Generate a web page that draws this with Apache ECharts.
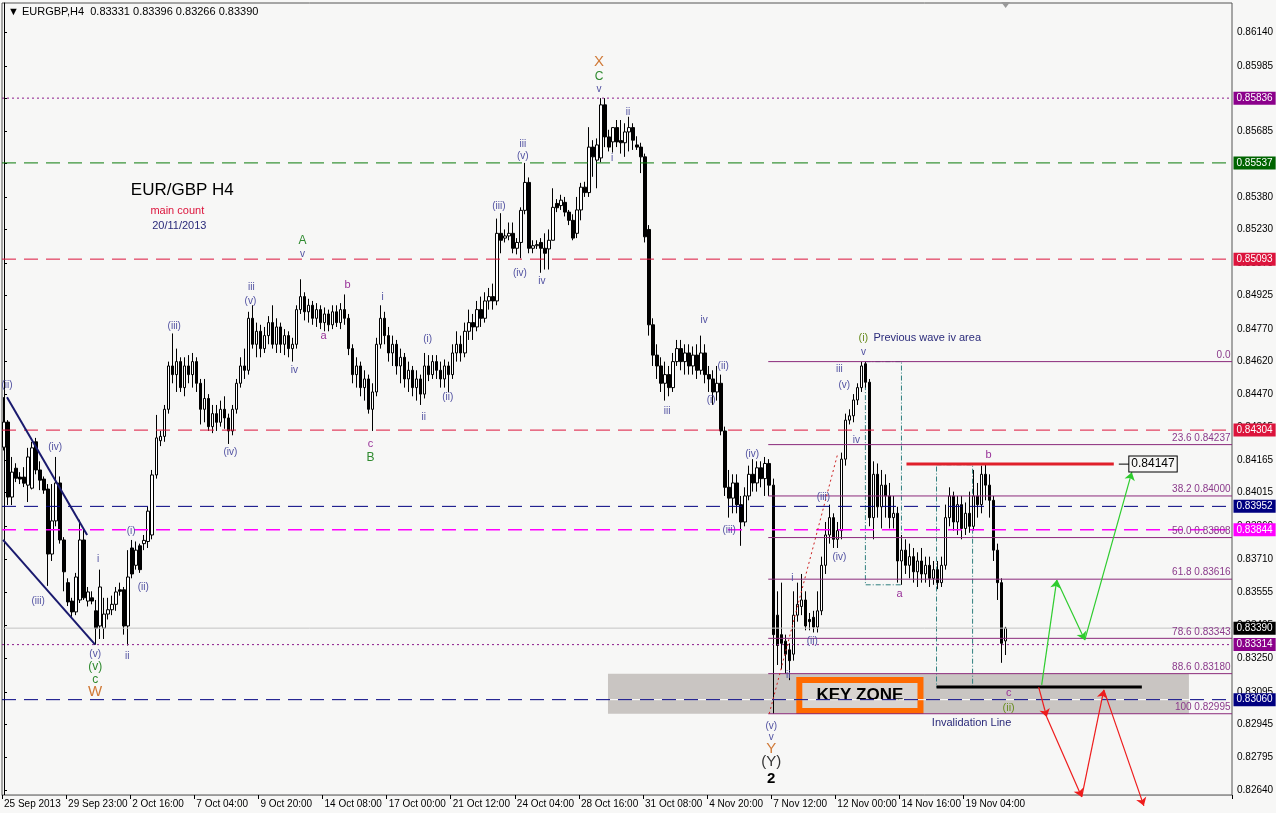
<!DOCTYPE html>
<html><head><meta charset="utf-8">
<script src="https://cdn.jsdelivr.net/npm/echarts@6/dist/echarts.min.js"></script>
<style>html,body{margin:0;padding:0;background:#f7f7f6}#c{width:1276px;height:813px}</style>
</head><body><div id="c"></div>
<script>
// ---------------- DATA ----------------
const headerText = '\u25BC EURGBP,H4  0.83331 0.83396 0.83266 0.83390';
const timeLabels = ['25 Sep 2013','29 Sep 23:00','2 Oct 16:00','7 Oct 04:00','9 Oct 20:00','14 Oct 08:00','17 Oct 00:00','21 Oct 12:00','24 Oct 04:00','28 Oct 16:00','31 Oct 08:00','4 Nov 20:00','7 Nov 12:00','12 Nov 00:00','14 Nov 16:00','19 Nov 04:00'];
const priceTicks = [0.86140,0.85985,0.85835,0.85685,0.85535,0.85380,0.85230,0.85075,0.84925,0.84770,0.84620,0.84470,0.84315,0.84165,0.84015,0.83860,0.83710,0.83555,0.83405,0.83250,0.83095,0.82945,0.82795,0.82640];
// rows: open, high, low, close
const ohlc = [
[0.84225,0.84456,0.84210,0.84341],[0.84341,0.84350,0.83958,0.83995],[0.83995,0.84180,0.83958,0.84110],[0.84128,0.84151,0.84064,0.84082],[0.84087,0.84110,0.84055,0.84078],
[0.84087,0.84133,0.84041,0.84059],[0.84050,0.84222,0.83972,0.84180],[0.84036,0.84250,0.84030,0.84222],[0.84250,0.84268,0.84100,0.84120],[0.84120,0.84160,0.84027,0.84073],
[0.84078,0.84090,0.84010,0.84027],[0.84032,0.84055,0.83585,0.83732],[0.83732,0.84055,0.83700,0.83885],[0.83885,0.84180,0.83860,0.84060],[0.84060,0.84090,0.83780,0.83797],
[0.83797,0.83810,0.83560,0.83650],[0.83600,0.83620,0.83492,0.83511],[0.83515,0.83530,0.83442,0.83465],[0.83465,0.83645,0.83450,0.83626],[0.83520,0.83890,0.83506,0.83797],
[0.83797,0.83843,0.83520,0.83530],[0.83515,0.83580,0.83490,0.83557],[0.83530,0.83560,0.83500,0.83515],[0.83470,0.83520,0.83314,0.83390],[0.83400,0.83660,0.83340,0.83580],
[0.83390,0.83530,0.83340,0.83455],[0.83455,0.83530,0.83430,0.83475],[0.83475,0.83540,0.83450,0.83500],[0.83500,0.83580,0.83470,0.83557],[0.83567,0.83600,0.83540,0.83560],
[0.83567,0.83580,0.83360,0.83400],[0.83400,0.83750,0.83310,0.83626],[0.83760,0.83797,0.83620,0.83640],[0.83680,0.83790,0.83660,0.83750],[0.83770,0.83780,0.83645,0.83660],
[0.83780,0.83820,0.83750,0.83795],[0.83790,0.83950,0.83760,0.83930],[0.83820,0.84120,0.83800,0.84097],[0.84097,0.84374,0.84080,0.84268],[0.84255,0.84300,0.84230,0.84275],
[0.84275,0.84420,0.84250,0.84400],[0.84400,0.84620,0.84380,0.84600],[0.84600,0.84750,0.84520,0.84560],[0.84560,0.84680,0.84480,0.84620],[0.84620,0.84640,0.84480,0.84500],
[0.84500,0.84640,0.84460,0.84600],[0.84600,0.84650,0.84520,0.84560],[0.84560,0.84660,0.84500,0.84620],[0.84620,0.84640,0.84480,0.84520],[0.84520,0.84540,0.84330,0.84400],
[0.84400,0.84540,0.84340,0.84450],[0.84450,0.84470,0.84300,0.84320],[0.84320,0.84420,0.84290,0.84380],[0.84380,0.84420,0.84300,0.84340],[0.84340,0.84440,0.84320,0.84400],
[0.84400,0.84460,0.84310,0.84360],[0.84360,0.84380,0.84240,0.84300],[0.84300,0.84420,0.84280,0.84400],[0.84400,0.84540,0.84380,0.84520],[0.84520,0.84640,0.84500,0.84600],
[0.84600,0.84680,0.84540,0.84580],[0.84580,0.84850,0.84560,0.84820],[0.84820,0.84880,0.84680,0.84700],[0.84700,0.84800,0.84640,0.84760],[0.84760,0.84790,0.84640,0.84680],
[0.84680,0.84780,0.84660,0.84740],[0.84740,0.84830,0.84700,0.84800],[0.84800,0.84880,0.84680,0.84700],[0.84700,0.84820,0.84660,0.84780],[0.84780,0.84800,0.84660,0.84700],
[0.84700,0.84770,0.84650,0.84740],[0.84740,0.84760,0.84640,0.84680],[0.84680,0.84730,0.84620,0.84700],[0.84700,0.84880,0.84680,0.84860],[0.84860,0.85000,0.84840,0.84920],
[0.84920,0.84940,0.84810,0.84850],[0.84850,0.84910,0.84800,0.84880],[0.84880,0.84900,0.84790,0.84820],[0.84820,0.84890,0.84780,0.84860],[0.84860,0.84880,0.84770,0.84800],
[0.84800,0.84870,0.84760,0.84840],[0.84840,0.84860,0.84760,0.84790],[0.84790,0.84880,0.84770,0.84850],[0.84850,0.84880,0.84780,0.84800],[0.84800,0.84890,0.84770,0.84860],
[0.84860,0.84930,0.84790,0.84820],[0.84820,0.84840,0.84650,0.84680],[0.84680,0.84700,0.84520,0.84560],[0.84560,0.84640,0.84500,0.84600],[0.84600,0.84620,0.84460,0.84500],
[0.84500,0.84580,0.84440,0.84540],[0.84540,0.84560,0.84380,0.84400],[0.84400,0.84520,0.84300,0.84480],[0.84480,0.84730,0.84460,0.84700],[0.84700,0.84880,0.84680,0.84820],
[0.84820,0.84850,0.84700,0.84740],[0.84740,0.84780,0.84620,0.84660],[0.84660,0.84740,0.84600,0.84700],[0.84700,0.84720,0.84560,0.84600],[0.84600,0.84680,0.84520,0.84640],
[0.84640,0.84660,0.84500,0.84540],[0.84540,0.84620,0.84480,0.84580],[0.84580,0.84600,0.84460,0.84500],[0.84500,0.84580,0.84440,0.84540],[0.84540,0.84560,0.84420,0.84470],
[0.84470,0.84660,0.84450,0.84600],[0.84600,0.84650,0.84530,0.84560],[0.84560,0.84650,0.84540,0.84620],[0.84620,0.84650,0.84540,0.84580],[0.84580,0.84620,0.84500,0.84540],
[0.84540,0.84630,0.84500,0.84600],[0.84600,0.84620,0.84480,0.84560],[0.84560,0.84700,0.84540,0.84660],[0.84660,0.84760,0.84620,0.84700],[0.84700,0.84740,0.84620,0.84660],
[0.84660,0.84800,0.84640,0.84760],[0.84760,0.84860,0.84720,0.84800],[0.84800,0.84840,0.84720,0.84780],[0.84780,0.84900,0.84760,0.84860],[0.84860,0.84920,0.84780,0.84820],
[0.84820,0.84940,0.84800,0.84900],[0.84900,0.84960,0.84860,0.84920],[0.84920,0.84980,0.84860,0.84900],[0.84900,0.85280,0.84880,0.85212],[0.85212,0.85305,0.85120,0.85180],
[0.85190,0.85230,0.85170,0.85200],[0.85200,0.85262,0.85180,0.85212],[0.85212,0.85262,0.85120,0.85143],[0.85143,0.85190,0.85115,0.85170],[0.85170,0.85332,0.85097,0.85318],
[0.85318,0.85537,0.85300,0.85447],[0.85447,0.85470,0.85120,0.85143],[0.85143,0.85180,0.85120,0.85155],[0.85155,0.85180,0.85140,0.85160],[0.85170,0.85190,0.85030,0.85143],
[0.85143,0.85212,0.85045,0.85120],[0.85140,0.85230,0.85045,0.85180],[0.85180,0.85420,0.85180,0.85332],[0.85350,0.85370,0.85310,0.85330],[0.85340,0.85390,0.85320,0.85365],
[0.85355,0.85380,0.85290,0.85310],[0.85310,0.85320,0.85250,0.85272],[0.85272,0.85300,0.85180,0.85190],[0.85212,0.85380,0.85190,0.85320],[0.85320,0.85445,0.85272,0.85425],
[0.85425,0.85450,0.85380,0.85400],[0.85400,0.85702,0.85380,0.85610],[0.85610,0.85642,0.85473,0.85565],[0.85550,0.85650,0.85420,0.85620],[0.85560,0.85836,0.85540,0.85805],
[0.85805,0.85836,0.85610,0.85657],[0.85657,0.85690,0.85590,0.85610],[0.85634,0.85702,0.85585,0.85700],[0.85700,0.85735,0.85610,0.85634],[0.85640,0.85735,0.85580,0.85630],
[0.85630,0.85720,0.85565,0.85680],[0.85680,0.85750,0.85590,0.85700],[0.85700,0.85720,0.85597,0.85642],[0.85620,0.85660,0.85597,0.85610],[0.85610,0.85630,0.85490,0.85565],
[0.85565,0.85580,0.85170,0.85196],[0.85230,0.85250,0.84740,0.84790],[0.84790,0.84820,0.84600,0.84650],[0.84650,0.84700,0.84540,0.84600],[0.84600,0.84640,0.84480,0.84520],
[0.84520,0.84620,0.84440,0.84560],[0.84560,0.84600,0.84460,0.84500],[0.84500,0.84660,0.84480,0.84620],[0.84620,0.84720,0.84600,0.84680],[0.84680,0.84720,0.84580,0.84620],
[0.84620,0.84700,0.84560,0.84660],[0.84660,0.84700,0.84560,0.84600],[0.84600,0.84690,0.84560,0.84650],[0.84650,0.84700,0.84540,0.84580],[0.84580,0.84740,0.84560,0.84660],
[0.84660,0.84700,0.84520,0.84560],[0.84560,0.84600,0.84480,0.84540],[0.84540,0.84580,0.84420,0.84480],[0.84480,0.84600,0.84440,0.84520],[0.84520,0.84560,0.84280,0.84300],
[0.84300,0.84320,0.84000,0.84040],[0.84040,0.84120,0.83900,0.83990],[0.83990,0.84100,0.83920,0.84060],[0.84060,0.84100,0.83920,0.83960],[0.83960,0.84000,0.83770,0.83880],
[0.83880,0.84040,0.83860,0.84000],[0.84000,0.84140,0.83980,0.84100],[0.84100,0.84170,0.84020,0.84060],[0.84060,0.84160,0.84020,0.84130],[0.84130,0.84160,0.84040,0.84080],
[0.84080,0.84180,0.84000,0.84150],[0.84150,0.84170,0.84000,0.84050],[0.84050,0.84080,0.82995,0.83360],[0.83450,0.83560,0.83220,0.83310],[0.83360,0.83600,0.83200,0.83320],
[0.83330,0.83360,0.83180,0.83270],[0.83290,0.83320,0.83150,0.83240],[0.83270,0.83560,0.83240,0.83450],[0.83450,0.83600,0.83420,0.83500],[0.83490,0.83640,0.83450,0.83520],
[0.83520,0.83560,0.83380,0.83400],[0.83430,0.83460,0.83380,0.83420],[0.83440,0.83470,0.83370,0.83395],[0.83395,0.83560,0.83370,0.83470],[0.83470,0.83720,0.83450,0.83680],
[0.83680,0.83880,0.83640,0.83820],[0.83820,0.83960,0.83780,0.83900],[0.83900,0.83920,0.83760,0.83800],[0.83800,0.83880,0.83760,0.83840],[0.83840,0.84200,0.83800,0.84170],
[0.84170,0.84380,0.84140,0.84350],[0.84350,0.84400,0.84330,0.84370],[0.84370,0.84470,0.84340,0.84443],[0.84443,0.84520,0.84420,0.84500],[0.84500,0.84620,0.84480,0.84600],
[0.84610,0.84620,0.84500,0.84525],[0.84525,0.84540,0.83860,0.83900],[0.83900,0.84160,0.83800,0.84100],[0.84100,0.84150,0.83900,0.83950],[0.83950,0.84120,0.83850,0.84050],
[0.84050,0.84100,0.83900,0.84000],[0.84000,0.84060,0.83850,0.83900],[0.83900,0.84000,0.83850,0.83920],[0.83920,0.83950,0.83600,0.83700],[0.83700,0.83820,0.83590,0.83750],
[0.83750,0.83800,0.83640,0.83680],[0.83680,0.83780,0.83620,0.83720],[0.83720,0.83760,0.83600,0.83650],[0.83650,0.83740,0.83580,0.83700],[0.83700,0.83760,0.83600,0.83640],
[0.83640,0.83720,0.83600,0.83680],[0.83680,0.83720,0.83580,0.83620],[0.83620,0.83700,0.83590,0.83660],[0.83660,0.83700,0.83570,0.83600],[0.83600,0.83720,0.83580,0.83680],
[0.83680,0.83960,0.83660,0.83900],[0.83900,0.84040,0.83860,0.84000],[0.84000,0.84020,0.83840,0.83880],[0.83880,0.84000,0.83820,0.83960],[0.83960,0.84000,0.83800,0.83850],
[0.83850,0.83970,0.83820,0.83920],[0.83920,0.84020,0.83830,0.83860],[0.83860,0.84120,0.83840,0.84000],[0.84000,0.84060,0.83900,0.83960],[0.83960,0.84140,0.83920,0.84100],
[0.84100,0.84150,0.83980,0.84050],[0.84050,0.84100,0.83900,0.83980],[0.83980,0.84000,0.83700,0.83750],[0.83750,0.83780,0.83520,0.83600],[0.83600,0.83620,0.83230,0.83320],
[0.83331,0.83396,0.83266,0.83390]
];
// horizontal price levels (right-axis tagged)
const levelValues = [0.85836,0.85537,0.85093,0.84304,0.83952,0.83844,0.83390,0.83314,0.83060];
// Fibonacci retracement
const fibRatios = ['0.0','23.6','38.2','50.0','61.8','78.6','88.6','100'];
const fibPrices = [0.84620,0.84237,0.84000,0.83808,0.83616,0.83343,0.83180,0.82995];
const fibStartBar = 190.75;
const targetLevel = 0.84147;
const cLevel = 0.83118;
const keyZone = [150.75,0.83180,295.75,0.82995];
const keyBox = [198.5,0.83151,228.75,0.83008];
const waveBox1 = [215,0.84620,224,0.83590];
const waveBox2 = [232.75,0.84144,241.75,0.83118];
const wedgeUpper = [[0.75,0.84456],[20.75,0.83820]];
const wedgeLower = [[-0.25,0.83797],[22.75,0.83314]];
const redDotted = [[191,0.82995],[208,0.84189]];
const greenPath = [[259,0.83128],[262.75,0.83612],[269.75,0.83335],[281.5,0.84110]];
const redPath = [[258.25,0.83118],[260.25,0.82980],[269,0.82611],[274.5,0.83105],[284.5,0.82570]];
const lastBar = 250;
// wave labels [text, bar, price]
const slateLabels = [['(ii)',0.75,0.84512],['(iv)',12.75,0.84226],['(iii)',8.5,0.83515],['(v)',22.75,0.83271],['i',23.5,0.83709],['ii',30.75,0.83262],['(i)',31.75,0.83839],['(ii)',34.75,0.83580],['(iii)',42.5,0.84785],['(iv)',56.5,0.84203],['iii',61.75,0.84965],['(v)',61.5,0.84900],['iv',72.5,0.84582],['v',74.5,0.85117],['i',94.5,0.84918],['ii',104.75,0.84365],['(i)',105.75,0.84725],['(ii)',110.75,0.84457],['(iii)',123.5,0.85338],['(iv)',128.75,0.85029],['iii',129.5,0.85625],['(v)',129.5,0.85569],['iv',134.25,0.84992],['v',148.5,0.85878],['i',151.75,0.85560],['ii',155.75,0.85772],['iii',165.5,0.84392],['iv',174.75,0.84812],['(ii)',179.5,0.84600],['(i)',176.5,0.84443],['(iv)',186.75,0.84194],['(iii)',181,0.83843],['(v)',191.5,0.82939],['v',191.5,0.82888],['i',196.75,0.83622],['ii',195.75,0.83174],['(ii)',201.75,0.83331],['(iii)',204.5,0.83995],['(iv)',208.5,0.83719],['iv',212.75,0.84259],['(v)',209.75,0.84512],['iii',208.5,0.84586],['v',214.5,0.84665]];
const greenLabels = [['(v)',22.75,0.83211],['c',22.75,0.83151],['A',74.5,0.85177],['B',91.5,0.84175],['C',148.5,0.85934]];
const purpleLabels = [['a',79.75,0.84738],['b',85.75,0.84974],['c',91.5,0.84240],['a',223.5,0.83548],['b',245.75,0.84189],['c',250.75,0.83091]];
const orangeLabels = [['W',22.75,0.83096],['X',148.5,0.86003],['Y',191.5,0.82832]];
const oliveLabels = [['(i)',214.5,0.84729],['(ii)',250.75,0.83022]];
const notes = [['(Y)',191.5,0.82772],['2',191.5,0.82694],['Previous wave iv area',217,0.84729],['Invalidation Line',241.5,0.82952],['EUR/GBP H4',44.5,0.85412],['main count',43.25,0.85315],['20/11/2013',43.75,0.85246]];

// ---------------- CHART ----------------
const N = 307;
const FONT = 'Liberation Sans';
const cats = Array.from({length:N},(_,i)=>i);
const candleData = ohlc.map(r=>[r[0],r[3],r[2],r[1]]);
const X0 = -0.5, X1 = N - 0.5;

const levelStyle = [
  {c:'#8b1a8b',t:[2,3],bg:'#8b008b',w:1},
  {c:'#0a7a0a',t:[14,8],bg:'#006400',w:1},
  {c:'#dc143c',t:[14,8],bg:'#dc143c',w:1},
  {c:'#dc143c',t:[14,8],bg:'#dc143c',w:1},
  {c:'#000080',t:[14,8],bg:'#000080',w:1},
  {c:'#ff00ff',t:[14,8],bg:'#ff00ff',w:1.5},
  {c:'#c4c4c4',t:'solid',bg:'#000000',w:1},
  {c:'#8b1a8b',t:[2,3],bg:'#8b008b',w:1},
  {c:'#000080',t:[14,8],bg:'#000080',w:1}
];

// each straight segment is its own 2-point line series
const segSeries = [];
function seg(a,b,style,z){
  segSeries.push({type:'line',xAxisIndex:1,yAxisIndex:0,data:[a,b],z:z||4,silent:true,clip:false,
    showSymbol:false,symbol:'none',animation:false,color:style.color,
    lineStyle:{color:style.color,width:style.width,type:style.type,opacity:1},
    itemStyle:{color:style.color},emphasis:{disabled:true}});
}
seg([keyZone[0],0.83060],[keyZone[2],0.83060],{color:'#ffffff',width:1,type:'solid'});
levelValues.forEach((v,k)=>{const s=levelStyle[k];seg([X0,v],[X1,v],{color:s.c,type:s.t,width:s.w});});
fibPrices.forEach((p)=>seg([fibStartBar,p],[X1,p],{color:'#8b2a7b',width:1,type:'solid'}));
seg(wedgeUpper[0],wedgeUpper[1],{color:'#1a1a6e',width:2,type:'solid'});
seg(wedgeLower[0],wedgeLower[1],{color:'#1a1a6e',width:2,type:'solid'});
seg(redDotted[0],redDotted[1],{color:'#cc2020',width:1,type:[2,3]});
seg([225.25,targetLevel],[277,targetLevel],{color:'#e0202a',width:3,type:'solid'});
seg([278.25,targetLevel],[280.75,targetLevel],{color:'#000000',width:1,type:'solid'});
seg([232.75,cLevel],[284,cLevel],{color:'#000000',width:3,type:'solid'});

function pathLines(pts,color){const out=[];for(let k=0;k<pts.length-1;k++){out.push({coords:[pts[k],pts[k+1]],lineStyle:{color:color,width:1.2,opacity:1}});}return out;}
const arrowData = [].concat(pathLines(greenPath,'#2ecc2e'), pathLines(redPath,'#ee1c1c'));

function rect(r,style){return [{coord:[r[0],r[1]],itemStyle:style},{coord:[r[2],r[3]]}];}
const boxStyle = {color:'rgba(0,0,0,0)',borderColor:'#2f7f7f',borderWidth:1,borderType:[5,2,1,2]};

function labelItems(arr,style){return arr.map(a=>({value:[a[1],a[2]],label:Object.assign({show:true,formatter:a[0],position:'inside',fontFamily:FONT},style)}));}
let annot = [].concat(
  labelItems(slateLabels,{color:'#5050a0',fontSize:10}),
  labelItems(greenLabels,{color:'#2f8a2f',fontSize:12}),
  labelItems(purpleLabels,{color:'#993399',fontSize:11}),
  labelItems(orangeLabels,{color:'#d07a38',fontSize:15}),
  labelItems(oliveLabels,{color:'#6b8e23',fontSize:11})
);
const noteStyles = [
  {color:'#333',fontSize:15},
  {color:'#000',fontSize:15,fontWeight:'bold'},
  {color:'#2a2a7a',fontSize:11,align:'left'},
  {color:'#2a2a7a',fontSize:11},
  {color:'#000',fontSize:17},
  {color:'#dc143c',fontSize:11},
  {color:'#2a2a7a',fontSize:11}
];
notes.forEach((n,k)=>{annot=annot.concat(labelItems([n],noteStyles[k]));});
fibPrices.forEach((p,k)=>{annot.push({value:[X1,p],label:{show:true,position:'insideBottomRight',distance:0,offset:[-2,-2],formatter:k===0?fibRatios[k]:fibRatios[k]+' '+p.toFixed(5),color:'#8b3a8b',fontSize:10,fontFamily:FONT,align:'right',verticalAlign:'bottom'}});});
const tagItems = levelValues.map((v,k)=>({value:[X1,v],label:{show:true,position:'right',distance:1,formatter:v.toFixed(5),backgroundColor:levelStyle[k].bg,color:'#fff',fontSize:10,fontFamily:FONT,padding:[2,3,1,3]}}));
tagItems.push({value:[280.75,targetLevel],label:{show:true,position:'right',distance:0,formatter:targetLevel.toFixed(5),color:'#000',fontSize:12,fontFamily:FONT,borderColor:'#000',borderWidth:1,backgroundColor:'#f7f7f6',padding:[2,2,1,2]}});

const shownTick = (i)=>i%16===0 && i/16 < timeLabels.length;
const hiddenDot = {color:'rgba(0,0,0,0)',opacity:1};

const option = {
  backgroundColor:'#f7f7f6',
  animation:false,
  title:{text:headerText,left:3,top:1,textStyle:{fontSize:11,fontWeight:'normal',color:'#000',fontFamily:FONT}},
  grid:{left:2,right:44,top:3,bottom:18,show:true,borderColor:'#555',borderWidth:1,backgroundColor:'transparent',containLabel:false,outerBoundsMode:'none'},
  xAxis:[{type:'category',data:cats,boundaryGap:true,
      axisLine:{show:true,lineStyle:{color:'#999',width:1}},
      axisTick:{show:true,interval:shownTick,length:4,inside:false,lineStyle:{color:'#000'}},
      axisLabel:{show:true,interval:shownTick,formatter:(v,i)=>timeLabels[i/16]||'',align:'left',color:'#000',fontSize:10,fontFamily:FONT,margin:4},
      splitLine:{show:false}},
    {type:'value',min:X0,max:X1,show:false,splitLine:{show:false}}],
  yAxis:{type:'value',position:'right',min:0.82620,max:0.86275,
    axisLine:{show:true,lineStyle:{color:'#000'}},
    axisTick:{show:true,length:3,customValues:priceTicks,lineStyle:{color:'#000'}},
    axisLabel:{show:true,customValues:priceTicks,formatter:(v)=>v.toFixed(5),color:'#000',fontSize:10,fontFamily:FONT,margin:5},
    splitLine:{show:false},minorSplitLine:{show:false}},
  series:[
    {type:'scatter',xAxisIndex:1,data:[],z:1,silent:true,
      markArea:{silent:true,data:[rect(keyZone,{color:'#c9c5c2',borderWidth:0})]}},
    {type:'candlestick',data:candleData,barWidth:3,z:3,silent:true,
      itemStyle:{color:'#ffffff',color0:'#000000',borderColor:'#000000',borderColor0:'#000000',borderWidth:1}}
  ].concat(segSeries).concat([
    {type:'scatter',xAxisIndex:1,data:[],z:4,silent:true,clip:false,
      markArea:{silent:true,data:[rect(waveBox1,boxStyle),rect(waveBox2,boxStyle)]},
      markPoint:{silent:true,data:[{coord:[lastBar,0.86275],symbol:'triangle',symbolRotate:180,symbolSize:[9,6],symbolOffset:[0,2],itemStyle:{color:'#999'},label:{show:false}}]}},
    {type:'lines',coordinateSystem:'cartesian2d',xAxisIndex:1,yAxisIndex:0,z:5,silent:true,clip:false,
      symbol:['none','arrow'],symbolSize:8,lineStyle:{opacity:1},data:arrowData},
    {type:'scatter',xAxisIndex:1,data:[],z:6,silent:true,
      markArea:{silent:true,data:[[{coord:[keyBox[0],keyBox[1]],itemStyle:{color:'#d9d4d0',borderColor:'#ff6a00',borderWidth:6},
        label:{show:true,position:'inside',formatter:'KEY ZONE',color:'#000',fontSize:17,fontWeight:'bold',fontFamily:FONT}},{coord:[keyBox[2],keyBox[3]]}]]}},
    {type:'scatter',xAxisIndex:1,data:annot,z:7,silent:true,clip:false,symbolSize:1,itemStyle:hiddenDot},
    {type:'scatter',xAxisIndex:1,data:tagItems,z:8,silent:true,clip:false,symbolSize:1,itemStyle:hiddenDot}
  ])
};
const chart = echarts.init(document.getElementById('c'),null,{renderer:'canvas'});
chart.setOption(option);
</script></body></html>
